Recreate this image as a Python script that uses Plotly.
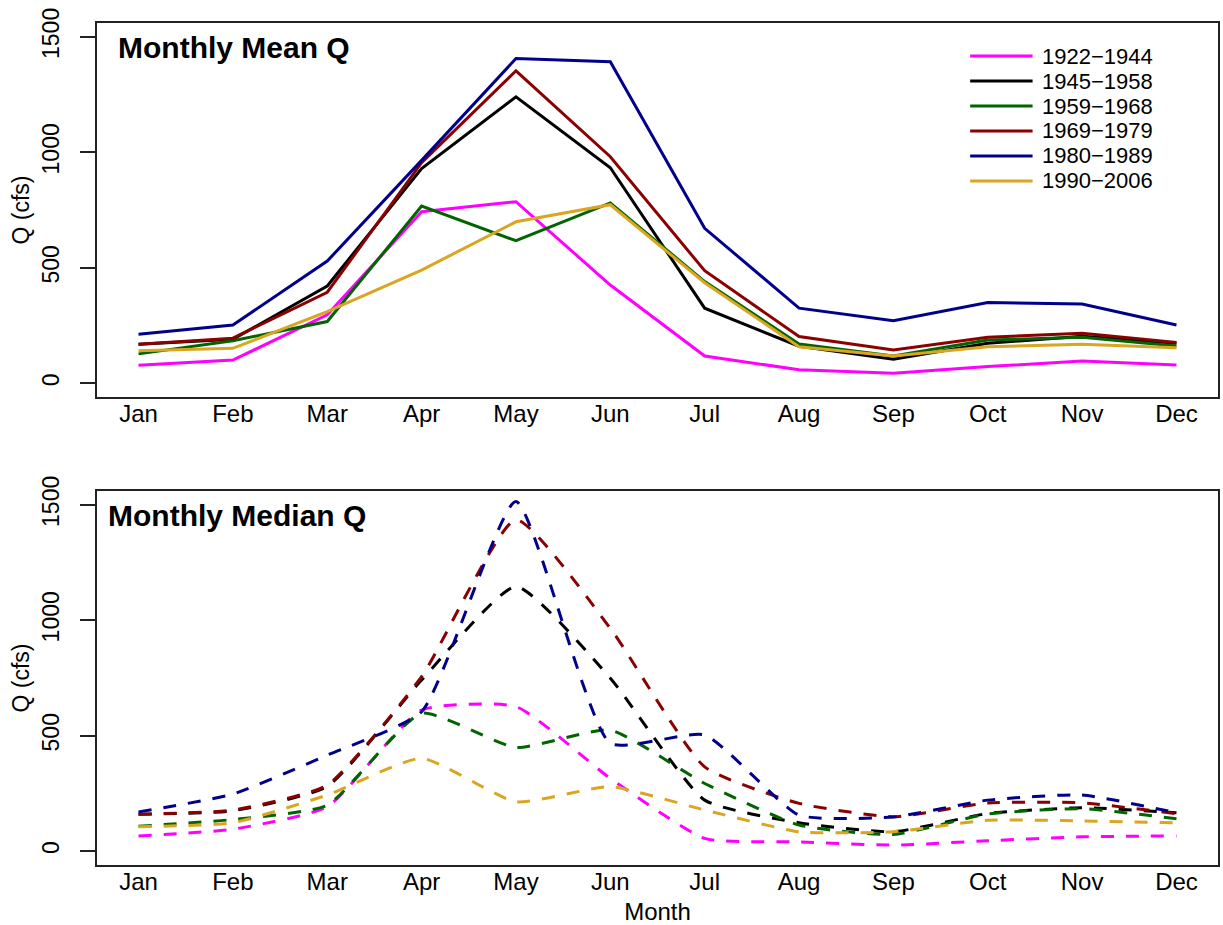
import plotly.graph_objects as go
from plotly.subplots import make_subplots

# Month axis
months = ["Jan", "Feb", "Mar", "Apr", "May", "Jun",
          "Jul", "Aug", "Sep", "Oct", "Nov", "Dec"]
month_num = list(range(1, 13))

# Periods of record and their line colours
periods = ["1922\u22121944", "1945\u22121958", "1959\u22121968",
           "1969\u22121979", "1980\u22121989", "1990\u22122006"]
colors = ["#FF00FF", "#000000", "#006400", "#8B0000", "#00008B", "#DAA520"]

# Monthly mean discharge (cfs)
mean_1922_1944 = [78, 100, 296, 743, 786, 425, 118, 58, 43, 72, 96, 79]
mean_1945_1958 = [169, 190, 421, 930, 1240, 933, 325, 160, 104, 173, 203, 173]
mean_1959_1968 = [127, 184, 267, 767, 617, 781, 440, 170, 118, 187, 199, 161]
mean_1969_1979 = [169, 195, 394, 955, 1353, 981, 487, 202, 144, 199, 216, 176]
mean_1980_1989 = [212, 252, 529, 965, 1406, 1392, 671, 325, 271, 349, 343, 252]
mean_1990_2006 = [141, 151, 310, 490, 699, 773, 435, 158, 118, 158, 169, 154]

# Monthly median discharge (cfs)
median_1922_1944 = [66, 95, 192, 611, 626, 315, 55, 40, 26, 45, 62, 66]
median_1945_1958 = [160, 175, 280, 741, 1146, 749, 221, 123, 84, 163, 188, 166]
median_1959_1968 = [108, 137, 199, 597, 449, 524, 293, 113, 72, 161, 184, 140]
median_1969_1979 = [160, 178, 286, 756, 1435, 965, 365, 207, 149, 209, 209, 162]
median_1980_1989 = [170, 247, 416, 604, 1514, 467, 503, 156, 148, 221, 243, 166]
median_1990_2006 = [106, 123, 243, 402, 214, 279, 178, 84, 84, 134, 131, 123]

mean_series = [mean_1922_1944, mean_1945_1958, mean_1959_1968,
               mean_1969_1979, mean_1980_1989, mean_1990_2006]
median_series = [median_1922_1944, median_1945_1958, median_1959_1968,
                 median_1969_1979, median_1980_1989, median_1990_2006]

y_ticks = [0, 500, 1000, 1500]

FONT = "Liberation Sans, Arial, Helvetica, sans-serif"
W, H = 1223, 925
M_L, M_R, M_T, M_B = 97, 3, 23, 60

fig = make_subplots(rows=2, cols=1, vertical_spacing=0.1115)

for name, col, vals in zip(periods, colors, mean_series):
    fig.add_trace(go.Scatter(x=month_num, y=vals, mode="lines", name=name,
                             line=dict(color=col, width=3),
                             showlegend=False), row=1, col=1)

for name, col, vals in zip(periods, colors, median_series):
    fig.add_trace(go.Scatter(x=month_num, y=vals, mode="lines", name=name,
                             line=dict(color=col, width=3, dash="13px,12px",
                                       shape="spline", smoothing=0.5),
                             showlegend=False), row=2, col=1)

axis_common = dict(showline=True, mirror=True, linecolor="#222222", linewidth=2,
                   showgrid=False, zeroline=False)

for r in (1, 2):
    fig.update_xaxes(range=[0.56, 12.44], tickvals=month_num, ticktext=months,
                     ticks="", ticklabelstandoff=-6,
                     tickfont=dict(size=24, color="#000000", family=FONT),
                     **axis_common, row=r, col=1)
    fig.update_yaxes(range=[-60, 1560], tickvals=y_ticks, ticks="outside",
                     ticklen=15, tickwidth=1.5, tickcolor="#222222",
                     tickangle=-90, ticklabelstandoff=12,
                     tickfont=dict(size=23, color="#000000", family=FONT),
                     title=dict(text="Q (cfs)", standoff=2,
                                font=dict(size=23, color="#000000", family=FONT)),
                     **axis_common, row=r, col=1)

fig.update_xaxes(title=dict(text="Month", standoff=10,
                            font=dict(size=24, color="#000000", family=FONT)),
                 row=2, col=1)

# Panel titles
fig.add_annotation(text="<b>Monthly Mean Q</b>", xref="x domain", yref="y domain",
                   x=0.017, y=0.934, xanchor="left", yanchor="middle", showarrow=False,
                   font=dict(size=30, color="#000000", family=FONT))
fig.add_annotation(text="<b>Monthly Median Q</b>", xref="x2 domain", yref="y2 domain",
                   x=0.008, y=0.935, xanchor="left", yanchor="middle", showarrow=False,
                   font=dict(size=30, color="#000000", family=FONT))

# Legend drawn inside the upper panel
leg_x0, leg_x1, leg_tx = 0.7789, 0.8346, 0.8421
leg_dy = 0.0668
leg_mid = 0.7447
leg_y0 = leg_mid + 2.5 * leg_dy
for i, (name, col) in enumerate(zip(periods, colors)):
    yy = leg_y0 - i * leg_dy
    fig.add_shape(type="line", xref="x domain", yref="y domain",
                  x0=leg_x0, x1=leg_x1, y0=yy, y1=yy,
                  line=dict(color=col, width=3))
    fig.add_annotation(text=name, xref="x domain", yref="y domain",
                       x=leg_tx, y=yy, xanchor="left", yanchor="middle",
                       showarrow=False, borderpad=0,
                       font=dict(size=22, color="#000000", family=FONT))

fig.update_layout(width=W, height=H, plot_bgcolor="white", paper_bgcolor="white",
                  margin=dict(l=M_L, r=M_R, t=M_T, b=M_B), showlegend=False,
                  font=dict(family=FONT, color="#000000"))

fig.write_html("out.html")
